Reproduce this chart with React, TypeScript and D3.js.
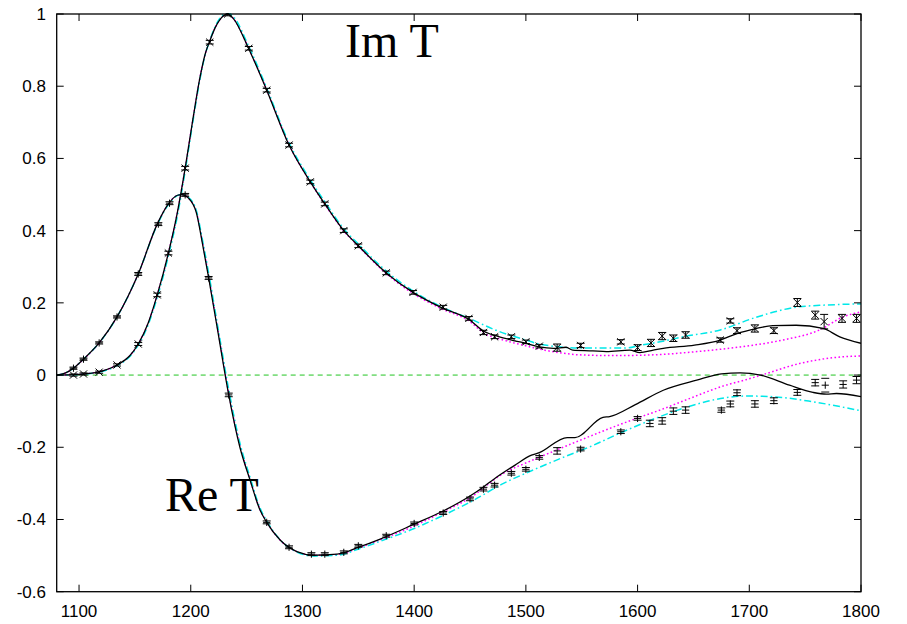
import React from "react";
import * as d3 from "d3";

// ---- data ----
const xTicks = [1100, 1200, 1300, 1400, 1500, 1600, 1700, 1800];
const yTicks = [-0.6, -0.4, -0.2, 0, 0.2, 0.4, 0.6, 0.8, 1];
const yTickLabels = ["-0.6", "-0.4", "-0.2", "0", "0.2", "0.4", "0.6", "0.8", "1"];

// Im T data points (x markers with error bars)
const imPtE = [1095,1104,1118,1134,1153,1170,1180,1195,1217,1233,1252,1268,1288,1307,1320,1337,1350,1375,1399,1426,1449,1462,1472,1487,1500,1512,1528,1549,1585,1600,1612,1622,1632,1643,1674,1683,1689,1705,1722,1743,1759,1767,1783,1796];
const imPtV = [0,0.003,0.008,0.028,0.086,0.222,0.338,0.573,0.922,1.0,0.905,0.789,0.637,0.535,0.474,0.40,0.358,0.283,0.229,0.188,0.157,0.118,0.106,0.106,0.092,0.080,0.076,0.082,0.092,0.076,0.089,0.108,0.102,0.111,0.097,0.150,0.123,0.129,0.123,0.201,0.166,0.148,0.157,0.157];
const imPtErr = [0.003,0.003,0.003,0.003,0.004,0.005,0.005,0.005,0.005,0.005,0.005,0.005,0.005,0.005,0.005,0.005,0.005,0.005,0.005,0.005,0.005,0.006,0.005,0.005,0.005,0.005,0.01,0.006,0.006,0.008,0.01,0.01,0.009,0.009,0.006,0.006,0.008,0.01,0.008,0.011,0.011,0.02,0.011,0.011];

// Re T data points (+ markers with error bars)
const rePtE = [1095,1104,1118,1134,1153,1171,1181,1195,1216,1234,1268,1288,1308,1320,1337,1350,1375,1400,1426,1450,1462,1472,1487,1500,1512,1528,1549,1585,1600,1611,1622,1632,1643,1675,1683,1689,1705,1722,1743,1759,1768,1784,1796];
const rePtV = [0.019,0.044,0.089,0.161,0.28,0.418,0.476,0.499,0.269,-0.055,-0.408,-0.477,-0.496,-0.496,-0.491,-0.473,-0.445,-0.411,-0.382,-0.343,-0.316,-0.305,-0.272,-0.261,-0.228,-0.210,-0.205,-0.157,-0.12,-0.134,-0.127,-0.1,-0.097,-0.097,-0.08,-0.049,-0.08,-0.071,-0.048,-0.021,-0.028,-0.026,-0.014];
const rePtErr = [0.003,0.003,0.003,0.003,0.004,0.004,0.004,0.004,0.004,0.005,0.004,0.004,0.004,0.004,0.004,0.004,0.004,0.004,0.004,0.005,0.005,0.005,0.005,0.005,0.005,0.009,0.005,0.005,0.005,0.009,0.009,0.009,0.009,0.006,0.008,0.008,0.009,0.008,0.008,0.009,0.019,0.01,0.01];

// Im T curves
const imBlackE = [1080,1090,1095,1104,1118,1134,1145,1153,1162,1170,1180,1188,1195,1202,1208,1213,1217,1222,1227,1233,1238,1252,1268,1288,1307,1320,1337,1350,1375,1399,1425,1450,1462,1475,1490,1500,1512,1525,1536,1542,1560,1572,1593,1602,1614,1623,1651,1674,1689,1705,1721,1742,1766,1781,1800];
const imBlackV = [0,0.0005,0.001,0.003,0.009,0.028,0.052,0.086,0.145,0.222,0.338,0.45,0.573,0.71,0.82,0.89,0.925,0.963,0.988,1.0,0.988,0.903,0.789,0.637,0.535,0.474,0.40,0.358,0.283,0.229,0.186,0.152,0.122,0.107,0.095,0.088,0.078,0.074,0.077,0.069,0.067,0.065,0.069,0.062,0.069,0.074,0.083,0.097,0.115,0.128,0.137,0.138,0.129,0.106,0.088];

const imMagE = [1080,1090,1095,1104,1118,1134,1145,1153,1162,1170,1180,1188,1195,1202,1208,1213,1217,1222,1227,1233,1238,1252,1268,1288,1307,1320,1337,1350,1375,1399,1425,1450,1462,1480,1500,1512,1530,1548,1578,1614,1653,1692,1730,1763,1784,1800];
const imMagV = [0,0.0005,0.001,0.003,0.009,0.028,0.052,0.086,0.145,0.222,0.338,0.45,0.573,0.71,0.82,0.89,0.925,0.963,0.988,1.0,0.988,0.904,0.790,0.638,0.535,0.473,0.399,0.357,0.281,0.226,0.183,0.148,0.117,0.097,0.081,0.072,0.062,0.056,0.054,0.056,0.065,0.078,0.097,0.125,0.161,0.175];

const imCyanE = [1080,1090,1095,1104,1118,1134,1145,1153,1162,1170,1180,1188,1195,1202,1208,1213,1217,1222,1227,1233,1238,1252,1268,1288,1307,1320,1337,1350,1375,1399,1423,1450,1475,1500,1512,1548,1590,1602,1620,1641,1674,1707,1742,1769,1800];
const imCyanV = [0,0.0005,0.001,0.003,0.008,0.026,0.05,0.083,0.14,0.215,0.33,0.44,0.565,0.703,0.815,0.888,0.926,0.966,0.992,1.003,0.993,0.91,0.795,0.643,0.541,0.48,0.405,0.363,0.288,0.233,0.191,0.156,0.122,0.097,0.086,0.075,0.075,0.082,0.092,0.106,0.125,0.161,0.188,0.194,0.197];

// Re T curves
const reBlackE = [1080,1088,1095,1104,1118,1134,1153,1170,1180,1188,1192,1198,1205,1211,1216,1225,1234,1244,1253,1262,1268,1280,1295,1310,1331,1351,1369,1400,1425,1450,1462,1471,1490,1505,1512,1537,1544,1569,1575,1598,1623,1653,1675,1692,1710,1736,1757,1769,1778,1800];
const reBlackV = [0,0.006,0.019,0.044,0.089,0.161,0.28,0.418,0.474,0.498,0.5,0.49,0.45,0.355,0.27,0.107,-0.055,-0.2,-0.29,-0.374,-0.408,-0.457,-0.489,-0.499,-0.496,-0.476,-0.455,-0.413,-0.378,-0.335,-0.31,-0.289,-0.25,-0.222,-0.215,-0.173,-0.173,-0.117,-0.115,-0.082,-0.042,-0.014,0.003,0.006,0,-0.028,-0.048,-0.053,-0.051,-0.06];

const reMagE = [1080,1088,1095,1104,1118,1134,1153,1170,1180,1188,1192,1198,1205,1211,1216,1225,1234,1244,1253,1262,1268,1280,1295,1310,1331,1351,1369,1400,1425,1450,1480,1505,1531,1565,1599,1620,1644,1677,1698,1713,1745,1775,1800];
const reMagV = [0,0.006,0.019,0.044,0.089,0.161,0.28,0.418,0.474,0.498,0.5,0.49,0.452,0.36,0.275,0.112,-0.05,-0.196,-0.288,-0.372,-0.407,-0.457,-0.489,-0.499,-0.497,-0.478,-0.457,-0.418,-0.38,-0.34,-0.272,-0.237,-0.203,-0.16,-0.12,-0.097,-0.068,-0.03,-0.012,0.002,0.032,0.048,0.053];

const reCyanE = [1080,1088,1095,1104,1118,1134,1153,1170,1180,1188,1192,1198,1205,1211,1216,1225,1234,1244,1253,1262,1268,1280,1295,1310,1331,1351,1369,1400,1425,1450,1480,1505,1531,1560,1584,1620,1656,1680,1698,1721,1757,1800];
const reCyanV = [0,0.006,0.019,0.044,0.089,0.161,0.28,0.416,0.472,0.497,0.5,0.492,0.456,0.366,0.283,0.12,-0.04,-0.188,-0.282,-0.368,-0.404,-0.456,-0.49,-0.501,-0.499,-0.481,-0.461,-0.425,-0.39,-0.352,-0.3,-0.265,-0.231,-0.195,-0.161,-0.115,-0.078,-0.062,-0.058,-0.06,-0.074,-0.099];

// ---- layout ----
const W = 907;
const H = 624;
const PL = 56.7, PR = 861, PT = 14, PB = 591.7;

const x = d3.scaleLinear().domain([1080, 1800]).range([PL, PR]);
const y = d3.scaleLinear().domain([-0.6, 1]).range([PB, PT]);

const zip = (e: number[], v: number[]) => e.map((d, i) => [d, v[i]] as [number, number]);

const line = d3
  .line<[number, number]>()
  .x((d) => x(d[0]))
  .y((d) => y(d[1]))
  .curve(d3.curveMonotoneX);

export default function App() {
  const ms = 3.6; // marker half size
  const cap = 4;
  const curves = [
    { e: imMagE, v: imMagV, stroke: "#ff00ff", dash: "1.6,2.4", w: 1.5 },
    { e: reMagE, v: reMagV, stroke: "#ff00ff", dash: "1.6,2.4", w: 1.5 },
    { e: imCyanE, v: imCyanV, stroke: "#00e8e8", dash: "7,3,1.6,3", w: 1.5 },
    { e: reCyanE, v: reCyanV, stroke: "#00e8e8", dash: "7,3,1.6,3", w: 1.5 },
    { e: imBlackE, v: imBlackV, stroke: "#000", dash: undefined, w: 1.3 },
    { e: reBlackE, v: reBlackV, stroke: "#000", dash: undefined, w: 1.3 },
  ];
  return (
    <svg
      width={W}
      height={H}
      style={{ position: "absolute", left: 0, top: 0, background: "#fff" }}
    >
      <defs>
        <clipPath id="plotclip">
          <rect x={PL} y={PT - 1} width={PR - PL} height={PB - PT + 1} />
        </clipPath>
      </defs>
      <rect x={0} y={0} width={W} height={H} fill="#fff" />

      {/* zero line */}
      <line
        x1={x(1080)}
        x2={x(1800)}
        y1={y(0)}
        y2={y(0)}
        stroke="#22c422"
        strokeWidth={1}
        strokeDasharray="5,4"
      />

      <g clipPath="url(#plotclip)">
        {curves.map((c, i) => (
          <path
            key={i}
            d={line(zip(c.e, c.v)) || ""}
            fill="none"
            stroke={c.stroke}
            strokeWidth={c.w}
            strokeDasharray={c.dash}
          />
        ))}

        {/* Im T points: x with error bars */}
        {imPtE.map((e, i) => {
          const cx = x(e);
          const cy = y(imPtV[i]);
          const y1 = y(imPtV[i] - imPtErr[i]);
          const y2 = y(imPtV[i] + imPtErr[i]);
          return (
            <g key={"im" + i} stroke="#000" strokeWidth={1} fill="none">
              <line x1={cx} x2={cx} y1={y1} y2={y2} />
              <line x1={cx - cap} x2={cx + cap} y1={y1} y2={y1} />
              <line x1={cx - cap} x2={cx + cap} y1={y2} y2={y2} />
              <line x1={cx - ms} x2={cx + ms} y1={cy - ms} y2={cy + ms} />
              <line x1={cx - ms} x2={cx + ms} y1={cy + ms} y2={cy - ms} />
            </g>
          );
        })}

        {/* Re T points: + with error bars */}
        {rePtE.map((e, i) => {
          const cx = x(e);
          const cy = y(rePtV[i]);
          const y1 = y(rePtV[i] - rePtErr[i]);
          const y2 = y(rePtV[i] + rePtErr[i]);
          return (
            <g key={"re" + i} stroke="#000" strokeWidth={1} fill="none">
              <line x1={cx} x2={cx} y1={Math.min(y1, cy - ms)} y2={Math.max(y2, cy + ms)} />
              <line x1={cx - cap} x2={cx + cap} y1={y1} y2={y1} />
              <line x1={cx - cap} x2={cx + cap} y1={y2} y2={y2} />
              <line x1={cx - ms} x2={cx + ms} y1={cy} y2={cy} />
            </g>
          );
        })}
      </g>

      {/* frame */}
      <rect
        x={PL}
        y={PT}
        width={PR - PL}
        height={PB - PT}
        fill="none"
        stroke="#000"
        strokeWidth={1.3}
      />

      {/* ticks */}
      {xTicks.map((t) => (
        <g key={"xt" + t}>
          <line x1={x(t)} x2={x(t)} y1={PB} y2={PB - 7} stroke="#000" strokeWidth={1} />
          <line x1={x(t)} x2={x(t)} y1={PT} y2={PT + 7} stroke="#000" strokeWidth={1} />
          <text
            x={x(t)}
            y={617}
            textAnchor="middle"
            fontFamily="'Liberation Sans', Arial, sans-serif"
            fontSize={17}
            fill="#000"
          >
            {t}
          </text>
        </g>
      ))}
      {yTicks.map((t, i) => (
        <g key={"yt" + i}>
          <line x1={PL} x2={PL + 7} y1={y(t)} y2={y(t)} stroke="#000" strokeWidth={1} />
          <line x1={PR} x2={PR - 7} y1={y(t)} y2={y(t)} stroke="#000" strokeWidth={1} />
          <text
            x={46}
            y={y(t) + 6}
            textAnchor="end"
            fontFamily="'Liberation Sans', Arial, sans-serif"
            fontSize={17}
            fill="#000"
          >
            {yTickLabels[i]}
          </text>
        </g>
      ))}

      {/* labels */}
      <text x={345} y={56.7} fontFamily="'Liberation Serif', 'Times New Roman', serif" fontSize={48} fill="#000">
        Im T
      </text>
      <text x={165} y={510.7} fontFamily="'Liberation Serif', 'Times New Roman', serif" fontSize={48} fill="#000">
        Re T
      </text>
    </svg>
  );
}
